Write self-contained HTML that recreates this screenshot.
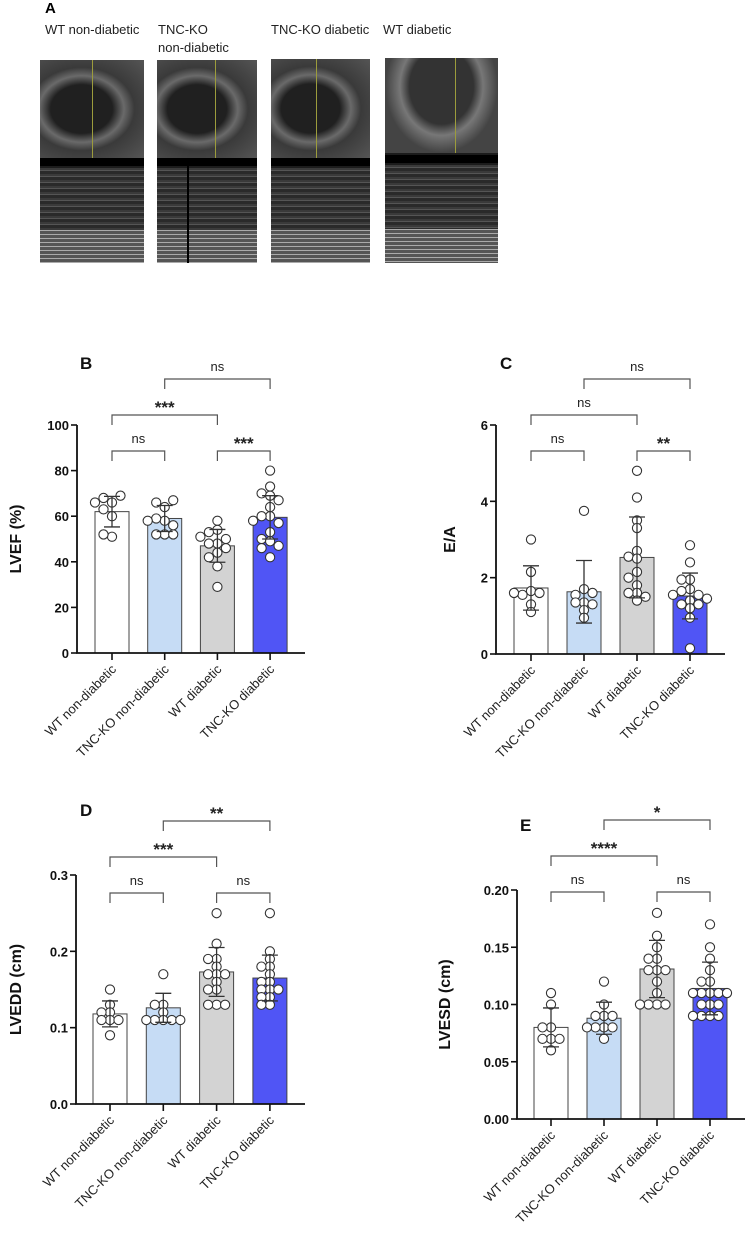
<!DOCTYPE html>
<html><head><meta charset="utf-8"><style>
body{margin:0;background:#fff;width:749px;height:1234px;overflow:hidden;position:relative;font-family:"Liberation Sans",Arial,sans-serif}
.lbl{position:absolute;font-size:13px;color:#222;line-height:18px}
.us{position:absolute;overflow:hidden;background:#1c1c1c}
.us .top{position:absolute;left:0;right:0;top:0;background:radial-gradient(ellipse at 40% 50%,#202020 0 35%,#6a6a6a 48%,#3a3a3a 60%,#555 100%)}
.us .band{position:absolute;left:0;right:0;background:#000}
.us .bot{position:absolute;left:0;right:0;bottom:0;background:repeating-linear-gradient(180deg,#3a3a3a 0 2px,#555 2px 3px,#2a2a2a 3px 6px),#333}
.us .bot:after{content:"";position:absolute;left:0;right:0;bottom:0;height:35%;background:repeating-linear-gradient(180deg,#aaa 0 1px,#555 1px 4px)}
.us .yl{position:absolute;width:1px;background:#9c9c3c;top:0}
</style></head><body>
<div style="position:absolute;left:45px;top:0;font-weight:bold;font-size:15px">A</div>
<div class="lbl" style="left:45px;top:21px">WT non-diabetic</div>
<div class="lbl" style="left:158px;top:21px">TNC-KO<br>non-diabetic</div>
<div class="lbl" style="left:271px;top:21px">TNC-KO diabetic</div>
<div class="lbl" style="left:383px;top:21px">WT diabetic</div>
<div class="us" style="left:40px;top:60px;width:104px;height:203px"><div class="top" style="height:98px"></div><div class="band" style="top:98px;height:8px"></div><div class="bot" style="top:108px"></div><div class="yl" style="left:52px;height:98px"></div></div>
<div class="us" style="left:157px;top:60px;width:100px;height:203px"><div class="top" style="height:98px"></div><div class="band" style="top:98px;height:8px"></div><div class="bot" style="top:108px"></div><div class="yl" style="left:58px;height:98px"></div><div style="position:absolute;left:30px;top:104px;width:2px;height:100px;background:#000"></div></div>
<div class="us" style="left:271px;top:59px;width:99px;height:204px"><div class="top" style="height:99px"></div><div class="band" style="top:99px;height:8px"></div><div class="bot" style="top:109px"></div><div class="yl" style="left:45px;height:99px"></div></div>
<div class="us" style="left:385px;top:58px;width:113px;height:205px"><div class="top" style="height:95px;background:radial-gradient(ellipse at 50% 30%,#333 0 40%,#777 52%,#444 70%)"></div><div class="band" style="top:97px;height:8px"></div><div class="bot" style="top:107px"></div><div class="yl" style="left:70px;height:95px"></div></div>

<svg id="charts" width="749" height="1234" style="position:absolute;left:0;top:0"></svg>
<script>
const categories=["WT non-diabetic","TNC-KO non-diabetic","WT diabetic","TNC-KO diabetic"];
const barColors=["#ffffff","#c6dcf5","#d3d3d3","#5055f5"];
// Panel B
const bMeans=[62,59,47,59.5];
const bSD=[6.7,5.7,7.2,9.5];
const bPts=[[66,68,69,66,63,51,52,60],[64,66,67,58,59,52,52,52,56,58],[58,54,53,48,50,48,46,44,38,29,42,51],[80,73,70,69,67,64,60,60,57,53,50,49,47,46,42,58]];
const bTicks=[0,20,40,60,80,100];
// Panel C
const cMeans=[1.73,1.63,2.53,1.52];
const cSD=[0.58,0.82,1.06,0.6];
const cPts=[[3.0,2.15,1.65,1.55,1.6,1.6,1.3,1.1],[3.75,1.7,1.55,1.6,1.35,1.35,1.3,1.15,0.95],[4.8,4.1,3.5,3.3,2.7,2.55,2.5,2.15,2.0,1.8,1.6,1.6,1.5,1.4],[2.85,2.4,1.95,1.95,1.7,1.65,1.55,1.55,1.4,1.3,1.3,1.2,0.95,0.15,1.45]];
const cTicks=[0,2,4,6];
// Panel D
const dMeans=[0.118,0.126,0.173,0.165];
const dSD=[0.017,0.019,0.032,0.03];
const dPts=[[0.15,0.13,0.12,0.12,0.11,0.11,0.11,0.09],[0.17,0.13,0.13,0.12,0.11,0.11,0.11,0.11,0.11],[0.25,0.21,0.19,0.19,0.18,0.17,0.17,0.17,0.16,0.15,0.15,0.13,0.13,0.13],[0.25,0.2,0.19,0.18,0.18,0.17,0.16,0.16,0.15,0.15,0.15,0.14,0.14,0.13,0.13]];
const dTicks=[0,0.1,0.2,0.3];
// Panel E
const eMeans=[0.08,0.088,0.131,0.114];
const eSD=[0.017,0.014,0.025,0.023];
const ePts=[[0.11,0.1,0.08,0.08,0.07,0.07,0.07,0.06],[0.12,0.1,0.09,0.09,0.09,0.08,0.08,0.08,0.08,0.07],[0.18,0.16,0.15,0.14,0.14,0.13,0.13,0.13,0.12,0.11,0.1,0.1,0.1,0.1],[0.17,0.15,0.14,0.13,0.12,0.12,0.11,0.11,0.11,0.11,0.11,0.1,0.1,0.1,0.09,0.09,0.09,0.09]];
const eTicks=[0,0.05,0.10,0.15,0.20];

const NS="http://www.w3.org/2000/svg";
const svg=document.getElementById('charts');
function mk(tag,attrs,parent){const e=document.createElementNS(NS,tag);for(const k in attrs)e.setAttribute(k,attrs[k]);(parent||svg).appendChild(e);return e;}

function panel(o){
  const g=mk('g',{});
  
  
  const yS=v=>o.y0-(v-o.ticks[0])/(o.ticks[o.ticks.length-1]-o.ticks[0])*(o.y0-o.y1);
  const xS=i=>o.xc0+i*o.step;
  const L=mk('text',{x:o.letter[0],y:o.letter[1],'font-size':17,'font-weight':'bold',fill:'#111'},g);L.textContent=o.id.toUpperCase();
  
  o.means.forEach((m,i)=>{
    const r=mk('rect',{x:xS(i)-17,y:yS(m),width:34,height:o.y0-yS(m),fill:barColors[i],stroke:'#444','stroke-width':1},g);
    
  });
  const slots=[0,-1,1,-2,2];
  o.pts.forEach((arr,i)=>{
    const placed=[];
    arr.forEach(v=>{
      const y=yS(v);
      const used=placed.filter(p=>Math.abs(p.y-y)<7.5).map(p=>p.s);
      let s=slots.find(k=>!used.includes(k));
      if(s===undefined)s=slots[placed.length%5];
      placed.push({y:y,s:s});
      const c=mk('circle',{cx:xS(i)+s*8.5,cy:y,r:4.6,fill:'#fff',stroke:'#333','stroke-width':1.1},g);
      
    });
  });
  o.means.forEach((m,i)=>{
    const x=xS(i),t=yS(m+o.sd[i]),b=yS(m-o.sd[i]);
    const e=mk('path',{d:`M${x},${t}V${b}M${x-8},${t}H${x+8}M${x-8},${b}H${x+8}`,stroke:'#333','stroke-width':1.3,fill:'none'},g);
    
  });
  const ax=mk('path',{d:`M${o.ax},${o.y1}V${o.y0}H${o.xend}`,stroke:'#111','stroke-width':1.8,fill:'none'},g);
  
  o.ticks.forEach(t=>{
    mk('line',{x1:o.ax-6,x2:o.ax,y1:yS(t),y2:yS(t),stroke:'#111','stroke-width':1.6},g);
    const tx=mk('text',{x:o.ax-8,y:yS(t)+5,'text-anchor':'end','font-size':13,'font-weight':'bold',fill:'#111'},g);
    tx.textContent=o.fmt(t);
    
  });
  categories.forEach((c,i)=>{
    mk('line',{x1:xS(i),x2:xS(i),y1:o.y0,y2:o.y0+7,stroke:'#111','stroke-width':1.6},g);
    const tx=mk('text',{transform:`translate(${xS(i)+5},${o.y0+17}) rotate(-45)`,'text-anchor':'end','font-size':13,fill:'#222'},g);
    tx.textContent=c;
    
  });
  const yt=mk('text',{transform:`translate(${o.titleX},${(o.y0+o.y1)/2}) rotate(-90)`,'text-anchor':'middle','font-size':16,'font-weight':'bold',fill:'#111'},g);
  yt.textContent=o.title;
  o.brackets.forEach(([a,b,lv,txt])=>{
    const y=o.by[lv],x1=xS(a),x2=xS(b);
    mk('path',{d:`M${x1},${y+10}V${y}H${x2}V${y+10}`,stroke:'#555','stroke-width':1.2,fill:'none'},g);
    const star=txt!=='ns';
    const tx=mk('text',{x:(x1+x2)/2,y:star?y-2:y-8,'text-anchor':'middle','font-size':star?17:13,'font-weight':star?'bold':'normal',fill:'#222'},g);
    tx.textContent=txt;
  });
}
const f0=t=>String(t);
panel({id:'b',means:bMeans,sd:bSD,pts:bPts,ticks:bTicks,fmt:f0,ax:77,y0:653,y1:425,xc0:112,step:52.7,xend:305,title:'LVEF (%)',titleX:21,letter:[80,369],by:[379,415,451],brackets:[[1,3,0,'ns'],[0,2,1,'***'],[0,1,2,'ns'],[2,3,2,'***']]});
panel({id:'c',means:cMeans,sd:cSD,pts:cPts,ticks:cTicks,fmt:f0,ax:496,y0:654,y1:425,xc0:531,step:53,xend:725,title:'E/A',titleX:455,letter:[500,369],by:[379,415,451],brackets:[[1,3,0,'ns'],[0,2,1,'ns'],[0,1,2,'ns'],[2,3,2,'**']]});
panel({id:'d',means:dMeans,sd:dSD,pts:dPts,ticks:dTicks,fmt:t=>t.toFixed(1),ax:76,y0:1104,y1:875,xc0:110,step:53.3,xend:305,title:'LVEDD (cm)',titleX:21,letter:[80,816],by:[821,857,893],brackets:[[1,3,0,'**'],[0,2,1,'***'],[0,1,2,'ns'],[2,3,2,'ns']]});
panel({id:'e',means:eMeans,sd:eSD,pts:ePts,ticks:eTicks,fmt:t=>t.toFixed(2),ax:517,y0:1119,y1:890,xc0:551,step:53,xend:745,title:'LVESD (cm)',titleX:450,letter:[520,831],by:[820,856,892],brackets:[[1,3,0,'*'],[0,2,1,'****'],[0,1,2,'ns'],[2,3,2,'ns']]});
</script>
</body></html>
